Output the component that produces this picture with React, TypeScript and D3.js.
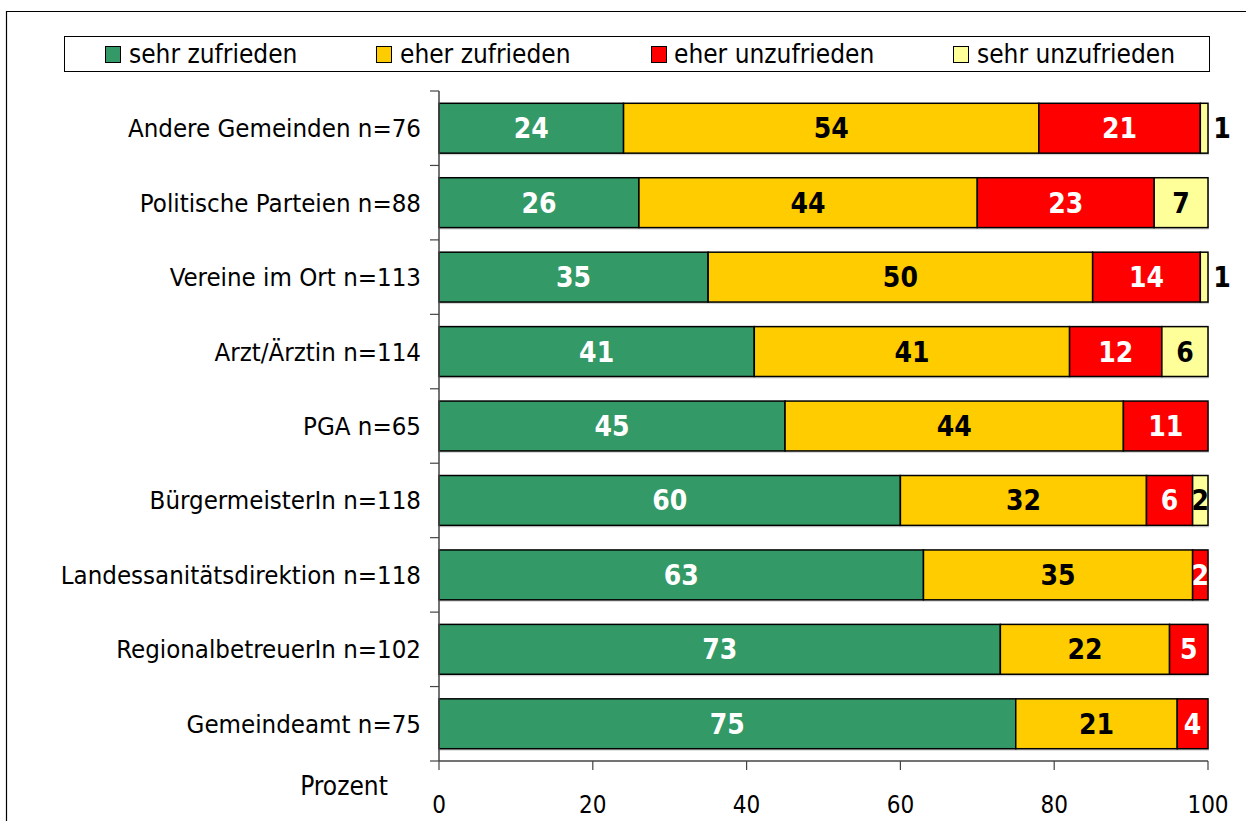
import React from "react";
import * as d3 from "d3";

const categories = [
  "Andere Gemeinden n=76",
  "Politische Parteien n=88",
  "Vereine im Ort n=113",
  "Arzt/Ärztin n=114",
  "PGA n=65",
  "BürgermeisterIn n=118",
  "Landessanitätsdirektion n=118",
  "RegionalbetreuerIn n=102",
  "Gemeindeamt n=75",
];
const seriesNames = ["sehr zufrieden", "eher zufrieden", "eher unzufrieden", "sehr unzufrieden"];
const sehrZufrieden = [24, 26, 35, 41, 45, 60, 63, 73, 75];
const eherZufrieden = [54, 44, 50, 41, 44, 32, 35, 22, 21];
const eherUnzufrieden = [21, 23, 14, 12, 11, 6, 2, 5, 4];
const sehrUnzufrieden = [1, 7, 1, 6, 0, 2, 0, 0, 0];
const xTicks = [0, 20, 40, 60, 80, 100];
const colors = ["#339966", "#FFCC00", "#FF0000", "#FFFF99"];
const labelColors = ["#ffffff", "#000000", "#ffffff", "#000000"];

const W = 1246, H = 821;
const FONT = "'DejaVu Sans Condensed', 'DejaVu Sans', sans-serif";

export default function App() {
  const series = [sehrZufrieden, eherZufrieden, eherUnzufrieden, sehrUnzufrieden];
  const x = d3.scaleLinear().domain([0, 100]).range([439, 1208]);
  const y = d3.scaleBand<string>().domain(categories).range([91, 761]).paddingInner(0.33).paddingOuter(0.165);
  const legendItems = [
    { sq: 105, tx: 129 },
    { sq: 376, tx: 400 },
    { sq: 651, tx: 674 },
    { sq: 953, tx: 977 },
  ];
  const step = y.step();
  return (
    <svg width={W} height={H} style={{ position: "absolute", left: 0, top: 0, fontFamily: FONT }}>
      <rect x={0} y={0} width={W} height={H} fill="#fff" />
      <path d={`M6.5,${H} V11.5 H${W}`} fill="none" stroke="#000" strokeWidth={1.2} />
      {/* legend */}
      <rect x={64.5} y={36.5} width={1145} height={35} fill="#fff" stroke="#000" strokeWidth={1} />
      {seriesNames.map((s, i) => (
        <g key={s}>
          <rect x={legendItems[i].sq + 0.5} y={46.5} width={15} height={16} fill={colors[i]} stroke="#000" strokeWidth={1} />
          <text x={legendItems[i].tx} y={63} fontSize={26} fill="#000">{s}</text>
        </g>
      ))}
      {/* bars */}
      {categories.map((c, ci) => {
        let acc = 0;
        const y0 = y(c)!;
        const bh = y.bandwidth();
        return (
          <g key={c}>
            <rect x={x(0)} y={y0 + 2} width={x(100) - x(0) + 1} height={bh} fill="#bbb" opacity={0.6} />
            {series.map((arr, si) => {
              const v = arr[ci];
              if (!v) return null;
              const x0 = x(acc);
              acc += v;
              const x1 = x(acc);
              return (
                <rect key={si} x={x0} y={y0} width={x1 - x0} height={bh} fill={colors[si]} stroke="#000" strokeWidth={1.5} />
              );
            })}
          </g>
        );
      })}
      {categories.map((c, ci) => {
        let acc = 0;
        const yc = y(c)! + y.bandwidth() / 2;
        return (
          <g key={c + "l"}>
            {series.map((arr, si) => {
              const v = arr[ci];
              if (!v) return null;
              const mid = acc + v / 2;
              acc += v;
              const outside = si === 3 && v === 1;
              return (
                <text
                  key={si}
                  x={outside ? x(100) + 14 : x(mid)}
                  y={yc + 10}
                  textAnchor="middle"
                  fontSize={28}
                  fontWeight="bold"
                  fill={outside ? "#000" : labelColors[si]}
                >
                  {v}
                </text>
              );
            })}
          </g>
        );
      })}
      {/* y axis */}
      <line x1={439} x2={439} y1={91} y2={761} stroke="#444" strokeWidth={1.5} />
      {d3.range(categories.length + 1).map((i) => (
        <line key={i} x1={430} x2={439} y1={91 + i * step} y2={91 + i * step} stroke="#444" strokeWidth={1.2} />
      ))}
      {categories.map((c) => (
        <text key={c} x={421} y={y(c)! + y.bandwidth() / 2 + 9} textAnchor="end" fontSize={25.6} fill="#000">
          {c}
        </text>
      ))}
      {/* x axis */}
      <line x1={439} x2={1208} y1={761} y2={761} stroke="#444" strokeWidth={1.5} />
      {xTicks.map((t) => (
        <g key={t}>
          <line x1={x(t)} x2={x(t)} y1={761} y2={770} stroke="#444" strokeWidth={1.2} />
          <text x={x(t)} y={813} textAnchor="middle" fontSize={24} fill="#000">{t}</text>
        </g>
      ))}
      <text x={344} y={795} textAnchor="middle" fontSize={26} fill="#000">Prozent</text>
    </svg>
  );
}
